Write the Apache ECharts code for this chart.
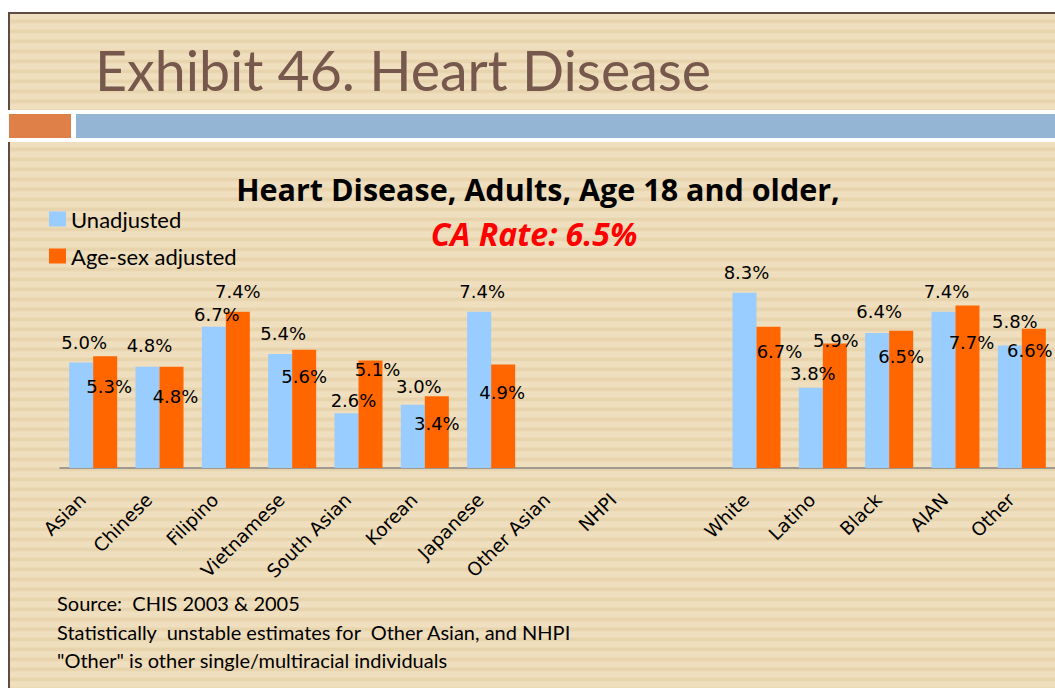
<!DOCTYPE html>
<html>
<head>
<meta charset="utf-8">
<script src="https://cdn.jsdelivr.net/npm/echarts@6/dist/echarts.min.js"></script>
<style>
  html, body { margin: 0; padding: 0; background: #ffffff; }
  #stage { position: relative; width: 1055px; height: 688px; overflow: hidden; background: #ffffff; }
  .paper {
    position: absolute;
    background: repeating-linear-gradient(to bottom,
      #efdfbf 0px, #efdfbf 5px, #e8d5af 6px, #e6d2ab 8px, #efdfbf 10px);
  }
  #paperTop { left: 8px; top: 12px; width: 1047px; height: 98px; border-left: 2px solid #5d4c42; border-top: 2px solid #5d4c42; box-sizing: border-box; }
  #paperMain { left: 8px; top: 142px; width: 1047px; height: 546px; border-left: 2px solid #5d4c42; box-sizing: border-box; }
  #barOrange { position: absolute; left: 9px; top: 114px; width: 62px; height: 24px; background: #df8048; }
  #barBlue { position: absolute; left: 76px; top: 114px; width: 979px; height: 24px; background: #94b5d3; }
  #chart { position: absolute; left: 0; top: 0; width: 1055px; height: 688px; }
</style>
</head>
<body>
<div id="stage">
  <div id="paperTop" class="paper"></div>
  <div id="barOrange"></div>
  <div id="barBlue"></div>
  <div id="paperMain" class="paper"></div>
  <div id="chart"></div>
</div>
<script>
// Heart disease prevalence (%) among adults 18+, by group
const categories = ['Asian', 'Chinese', 'Filipino', 'Vietnamese', 'South Asian', 'Korean', 'Japanese',
  'Other Asian', 'NHPI', '', 'White', 'Latino', 'Black', 'AIAN', 'Other'];
const unadjusted = [5.0, 4.8, 6.7, 5.4, 2.6, 3.0, 7.4, null, null, null, 8.3, 3.8, 6.4, 7.4, 5.8];
const ageSexAdjusted = [5.3, 4.8, 7.4, 5.6, 5.1, 3.4, 4.9, null, null, null, 6.7, 5.9, 6.5, 7.7, 6.6];
const seriesNames = ['Unadjusted', 'Age-sex adjusted'];
const headerText = 'Exhibit 46. Heart Disease';
const chartTitle = 'Heart Disease, Adults, Age 18 and older,';
const chartSubtitle = 'CA Rate: 6.5%';
const notes = [
  'Source:  CHIS 2003 & 2005',
  'Statistically  unstable estimates for  Other Asian, and NHPI',
  '"Other" is other single/multiracial individuals'
];

// Hand-placed label nudges [dx, dy] relative to each bar top
const nudgeUnadj = [[3,-11],[2,-12],[3,-3],[3,-12],[7,-4],[6,-9],[3,-11],[0,0],[0,0],[0,0],[2,-11],[2,-5],[2,-12],[3,-11],[5,-15]];
const nudgeAdj = [[4,39],[4,39],[0,-11],[0,36],[7,18],[0,36],[-1,37],[0,0],[0,0],[0,0],[11,34],[1,6],[0,35],[4,46],[-4,31]];

const labelFont = 'DejaVu Sans';
const textFont = 'Lato';
const boldFont = 'Open Sans';

function buildData(values, nudges) {
  return values.map((v, i) => {
    if (v === null) return '-';
    return { value: v, label: { offset: nudges[i] } };
  });
}

const chart = echarts.init(document.getElementById('chart'), null, { renderer: 'svg' });

const valueLabel = {
  show: true, position: 'top', distance: 0, fontFamily: labelFont, fontSize: 18, color: '#000000',
  formatter: p => p.value.toFixed(1) + '%'
};

const option = {
  backgroundColor: 'transparent',
  animation: false,
  color: ['#99ccff', '#ff6600'],
  title: [
    { text: chartTitle, left: 533, top: 168, textAlign: 'center',
      textStyle: { fontFamily: boldFont, fontWeight: 'bold', fontSize: 30.5, color: '#000000' } },
    { text: chartSubtitle, left: 529, top: 212, textAlign: 'center',
      textStyle: { fontFamily: boldFont, fontWeight: 'bold', fontStyle: 'italic', fontSize: 32, color: '#ff0000' } }
  ],
  legend: {
    orient: 'vertical', left: 49, top: 208, padding: 0, itemWidth: 17, itemHeight: 15, itemGap: 15,
    icon: 'rect', data: seriesNames,
    textStyle: { fontFamily: textFont, fontSize: 22, color: '#000000' }
  },
  grid: { left: 60, top: 257, width: 999, height: 211, containLabel: false },
  xAxis: {
    type: 'category', data: categories,
    axisLine: { show: true, lineStyle: { color: '#868686', width: 1.5 } },
    axisTick: { show: false },
    axisLabel: { interval: 0, rotate: 45, margin: 18, padding: [0, 15, 0, 0],
      fontFamily: labelFont, fontSize: 18.5, color: '#000000' }
  },
  yAxis: { type: 'value', min: 0, max: 10, show: false, splitLine: { show: false } },
  series: [
    { name: seriesNames[0], type: 'bar', barWidth: 24, barGap: '0%',
      data: buildData(unadjusted, nudgeUnadj), label: valueLabel },
    { name: seriesNames[1], type: 'bar', barWidth: 24, barGap: '0%',
      data: buildData(ageSexAdjusted, nudgeAdj), label: valueLabel }
  ],
  graphic: [
    { type: 'text', left: 95, top: 41,
      style: { text: headerText, fontFamily: textFont, fontSize: 55.5, fill: '#76594c' } },
    ...notes.map((t, i) => ({
      type: 'text', left: 57, top: 593 + i * 28.5,
      style: { text: t, fontFamily: textFont, fontSize: 20, fill: '#000000' }
    }))
  ]
};

chart.setOption(option);
</script>
</body>
</html>
